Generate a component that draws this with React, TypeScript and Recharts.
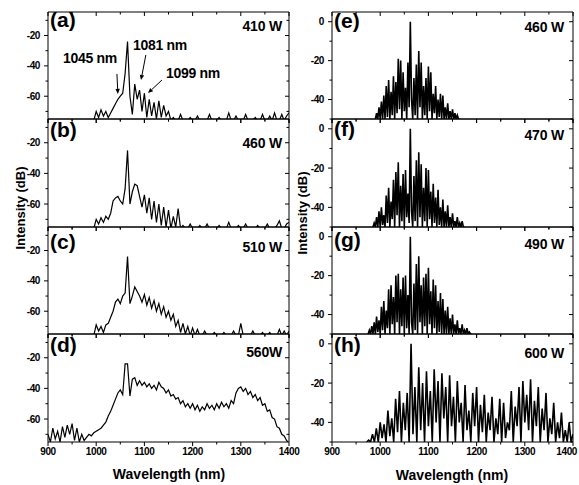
import React from "react";
import { LineChart, Line, XAxis, YAxis, ReferenceLine, ReferenceArea } from "recharts";

const FONT = '"Liberation Sans", Arial, Helvetica, sans-serif';

// wavelength axis (nm)
const X_TICKS = [900, 950, 1000, 1050, 1100, 1150, 1200, 1250, 1300, 1350, 1400];
const X_LABELS = [900, 1000, 1100, 1200, 1300, 1400];

// intensity axes (dB)
const LEFT_Y_TICKS = [-70, -60, -50, -40, -30, -20, -10];
const LEFT_Y_LABELS = [-60, -40, -20];
const RIGHT_Y_TICKS = [-50, -40, -30, -20, -10, 0];
const RIGHT_Y_LABELS = [-40, -20, 0];

// left column spectra, 900..1400 nm every 5 nm
const specA = [
  -76, -76, -76, -76, -76, -76, -76, -76, -76, -76,
  -76, -76, -76, -76, -76, -76, -76, -76, -76, -76,
  -70, -74, -69, -73, -70, -74, -71, -68, -65, -62,
  -60, -58, -45, -24, -60, -72, -52, -62, -56, -70,
  -58, -74, -62, -73, -64, -75, -63, -74, -66, -73,
  -70, -76, -74, -76, -76, -72, -76, -76, -76, -74,
  -76, -76, -73, -76, -76, -76, -76, -72, -76, -76,
  -76, -74, -76, -76, -76, -71, -76, -76, -73, -76,
  -76, -76, -72, -76, -76, -76, -74, -76, -76, -72,
  -76, -76, -73, -76, -71, -76, -76, -72, -76, -73,
  -71,
];
const specB = [
  -76, -76, -76, -76, -76, -76, -76, -76, -76, -76,
  -76, -76, -76, -76, -76, -76, -76, -76, -76, -76,
  -70, -73, -69, -72, -68, -70, -66, -58, -56, -55,
  -58, -60, -50, -25, -60, -52, -47, -48, -55, -62,
  -54, -66, -56, -70, -58, -72, -60, -74, -62, -75,
  -64, -76, -68, -75, -63, -76, -74, -76, -76, -73,
  -76, -76, -76, -74, -76, -76, -73, -76, -76, -76,
  -76, -74, -76, -76, -76, -72, -76, -76, -76, -74,
  -76, -76, -73, -76, -76, -76, -76, -74, -76, -76,
  -76, -73, -76, -76, -76, -74, -71, -76, -76, -73,
  -72,
];
const specC = [
  -76, -76, -76, -76, -76, -76, -76, -76, -76, -76,
  -76, -76, -76, -76, -76, -76, -76, -76, -76, -76,
  -69, -73, -70, -74, -69, -68, -64, -60, -54, -52,
  -55, -50, -48, -24, -55, -50, -44, -47, -50, -54,
  -49, -56, -51, -58, -53, -60, -55, -62, -57, -64,
  -60, -66, -62, -70, -66, -74, -68, -75, -70, -76,
  -71, -76, -72, -76, -76, -73, -76, -76, -76, -74,
  -76, -76, -76, -74, -76, -76, -76, -73, -76, -76,
  -68, -76, -76, -76, -76, -73, -76, -76, -76, -74,
  -76, -76, -74, -76, -76, -76, -72, -76, -73, -76,
  -73,
];
const specD = [
  -70, -75, -66, -73, -68, -75, -65, -72, -64, -70,
  -63, -74, -66, -75, -70, -74, -72, -70, -71, -69,
  -68, -67, -66, -64, -62, -58, -55, -51, -47, -43,
  -41, -44, -24, -24, -45, -34, -33, -38, -35, -38,
  -36, -39, -37, -40, -38, -41, -36, -39, -40, -43,
  -41, -45, -44, -47, -46, -50, -48, -52, -50, -53,
  -50, -54, -51, -55, -52, -54, -50, -53, -51, -54,
  -50, -53, -49, -52, -50, -53, -48, -50, -43, -40,
  -39, -42, -40, -44, -42, -46, -44, -48, -46, -51,
  -50, -55, -54, -59, -60, -65, -66, -70, -71, -74,
  -76,
];

// right column spectra
const specE = [
  -50, -47, -50, -44, -50, -41, -50, -38, -50, -33,
  -49, -30, -50, -36, -48, -28, -50, -31, -47, -19,
  -45, -20, -50, -26, -46, -34, -50, -21, -44, 0,
  -40, -50, -29, -48, -22, -50, -15, -44, -21, -50,
  -33, -48, -29, -50, -23, -46, -26, -50, -37, -47,
  -33, -50, -40, -49, -37, -50, -38, -50, -44, -50,
  -42, -50, -46, -50, -45, -50, -47, -50, -48, -50,
  -50,
];
const specF = [
  -50, -48, -50, -45, -50, -42, -50, -40, -49, -44,
  -50, -34, -48, -30, -50, -37, -46, -26, -50, -22,
  -44, -17, -50, -29, -47, -23, -50, -21, -45, -33,
  -48, 0, -42, -50, -24, -47, -16, -50, -12, -45,
  -18, -50, -30, -47, -20, -50, -21, -46, -32, -50,
  -28, -48, -35, -50, -31, -49, -40, -50, -36, -50,
  -42, -50, -39, -50, -45, -50, -43, -50, -47, -50,
  -45, -50, -48, -50, -47, -50, -50,
];
const specG = [
  -50, -48, -50, -46, -50, -44, -50, -41, -49, -43,
  -50, -36, -48, -33, -50, -38, -47, -27, -50, -25,
  -45, -31, -50, -20, -44, -19, -50, -27, -46, -21,
  -50, -20, -47, -30, -50, 0, -44, -50, -24, -48,
  -14, -50, -10, -44, -25, -50, -21, -46, -19, -50,
  -16, -45, -28, -50, -22, -47, -25, -50, -33, -49,
  -29, -50, -32, -50, -38, -50, -36, -50, -42, -50,
  -40, -50, -45, -50, -43, -50, -47, -50, -45, -50,
  -48, -50, -47, -50, -49, -50, -50,
];
const specH = [
  -50, -49, -50, -46, -50, -43, -50, -40, -48, -41,
  -50, -34, -47, -38, -50, -28, -45, -24, -50, -30,
  -44, -25, -50, 0, -46, -22, -50, -12, -44, -20,
  -50, -14, -42, -24, -50, -13, -40, -19, -50, -15,
  -38, -22, -50, -16, -42, -27, -50, -19, -40, -30,
  -50, -21, -44, -34, -50, -25, -42, -22, -50, -31,
  -45, -26, -50, -35, -44, -27, -50, -38, -46, -28,
  -50, -30, -48, -40, -44, -24, -50, -32, -42, -22,
  -50, -19, -40, -26, -44, -18, -50, -29, -42, -22,
  -50, -33, -44, -25, -50, -38, -46, -30, -50, -40,
  -48, -35, -50, -44, -50, -40, -50, -46,
];

// sampling of each spectrum: first wavelength and step (nm)
const SPECTRA = [specA, specB, specC, specD, specE, specF, specG, specH];
const SPEC_START = [900, 900, 900, 900, 990, 985, 975, 972];
const SPEC_STEP = [5, 5, 5, 5, 2.5, 2.5, 2.5, 4];

const TAGS = ["(a)", "(b)", "(c)", "(d)", "(e)", "(f)", "(g)", "(h)"];
const POWERS = ["410 W", "460 W", "510 W", "560W", "460 W", "470 W", "490 W", "600 W"];

// annotation arrows in panel (a): [wl, dB] start -> end
const ARROW_TEXT = ["1045 nm", "1081 nm", "1099 nm"];
const ARROW_FROM = [[1043, -45.3], [1103, -32.8], [1136.5, -49.3]];
const ARROW_TO = [[1045, -58.5], [1093, -49.3], [1107.5, -57.9]];

// layout
const PANEL_TOPS = [12, 119, 227, 334];
const PANEL_BOTTOM = 442;
const COL_LEFT = [0, 284];
const COL_RIGHT_MARGIN = [14, 5];
const AXIS_W = 48;
const PLOT_W = 241;
const PLOT_TOP = 4;
const TAG_Y = [27, 137, 249, 352, 28, 136, 247, 352];
const POWER_Y = [31, 148, 252, 357, 32, 140, 249, 358];
const ARROW_TEXT_POS = [[63, 63], [133, 50], [166, 78]];

const labelText = { fill: "#000", fontSize: 10, fontWeight: 700, fontFamily: FONT, letterSpacing: -0.4 };

// tick labels through the axes' tick renderer
function makeLabel(side: "b" | "l", majors: number[], show: boolean, h: number, squeezeLast: boolean) {
  const pb = PLOT_TOP + h;
  return (props: any) => {
    const { x, y, payload } = props;
    const v = payload.value;
    if (!show || !majors.includes(v)) return <g />;
    if (side === "b") {
      const last = squeezeLast && v === 1400;
      return (
        <text x={last ? x + 4 : x} y={pb + 6} dy="0.71em" textAnchor={last ? "end" : "middle"} {...labelText}>
          {v}
        </text>
      );
    }
    return (
      <text x={AXIS_W - 8} y={y} dy="0.355em" textAnchor="end" {...labelText}>
        {v}
      </text>
    );
  };
}

// tick marks: bottom/left outward, top/right inward
const vTick = (major: boolean) => (p: any) => {
  const len = major ? 4 : 2.5;
  const top = Math.min(p.y1, p.y2);
  const bot = Math.max(p.y1, p.y2);
  return (
    <g>
      <line x1={p.x1} x2={p.x1} y1={bot} y2={bot + len} stroke="#000" strokeWidth={1} />
      <line x1={p.x1} x2={p.x1} y1={top} y2={top + len} stroke="#000" strokeWidth={1} />
    </g>
  );
};
const hTick = (major: boolean) => (p: any) => {
  const len = major ? 4 : 2.5;
  const l = Math.min(p.x1, p.x2);
  const r = Math.max(p.x1, p.x2);
  return (
    <g>
      <line x1={l - len} x2={l} y1={p.y1} y2={p.y1} stroke="#000" strokeWidth={1} />
      <line x1={r - len} x2={r} y1={p.y1} y2={p.y1} stroke="#000" strokeWidth={1} />
    </g>
  );
};

const Arrow = (p: any) => {
  const { x1, y1, x2, y2 } = p;
  const a = Math.atan2(y2 - y1, x2 - x1);
  const L = 5;
  const W = 2.2;
  const bx = x2 - L * Math.cos(a);
  const by = y2 - L * Math.sin(a);
  const pts = `${x2},${y2} ${bx - W * Math.sin(a)},${by + W * Math.cos(a)} ${bx + W * Math.sin(a)},${by - W * Math.cos(a)}`;
  return (
    <g>
      <line x1={x1} y1={y1} x2={bx} y2={by} stroke="#000" strokeWidth={1} />
      <polygon points={pts} fill="#000" />
    </g>
  );
};

function Panel({ idx }: { idx: number }) {
  const col = idx < 4 ? 0 : 1;
  const row = idx % 4;
  const top = PANEL_TOPS[row];
  const h = (row < 3 ? PANEL_TOPS[row + 1] : PANEL_BOTTOM) - top;
  const showX = row === 3;
  const bottom = showX ? 25 : 3;
  const right = COL_RIGHT_MARGIN[col];
  const domain: [number, number] = col === 0 ? [-75, -4.5] : [-50, 5];
  const yTicks = col === 0 ? LEFT_Y_TICKS : RIGHT_Y_TICKS;
  const yLabels = col === 0 ? LEFT_Y_LABELS : RIGHT_Y_LABELS;
  const data = SPECTRA[idx].map((v, i) => ({ wl: SPEC_START[idx] + SPEC_STEP[idx] * i, v }));

  return (
    <div style={{ position: "absolute", left: COL_LEFT[col], top: top - PLOT_TOP }}>
      <LineChart
        width={AXIS_W + PLOT_W + right}
        height={h + PLOT_TOP + bottom + 1}
        data={data}
        margin={{ top: PLOT_TOP, right, bottom, left: 0 }}
      >
        <XAxis
          xAxisId="b"
          dataKey="wl"
          type="number"
          domain={[900, 1400]}
          ticks={X_TICKS}
          interval={0}
          allowDataOverflow
          height={1}
          tickSize={0}
          tickMargin={0}
          axisLine={false}
          tickLine={false}
          tick={makeLabel("b", X_LABELS, showX, h, col === 1)}
        />
        <YAxis
          yAxisId="l"
          type="number"
          domain={domain}
          ticks={yTicks}
          interval={0}
          allowDataOverflow
          width={AXIS_W}
          tickSize={0}
          tickMargin={0}
          axisLine={false}
          tickLine={false}
          tick={makeLabel("l", yLabels, true, h, false)}
        />
        <ReferenceArea
          xAxisId="b"
          yAxisId="l"
          x1={900}
          x2={1400}
          y1={domain[0]}
          y2={domain[1]}
          fill="none"
          stroke="#000"
          strokeWidth={1}
          ifOverflow="visible"
        />
        {X_TICKS.map((t) => (
          <ReferenceLine
            key={`x${t}`}
            xAxisId="b"
            yAxisId="l"
            x={t}
            ifOverflow="visible"
            shape={vTick(X_LABELS.includes(t))}
          />
        ))}
        {yTicks.map((t) => (
          <ReferenceLine
            key={`y${t}`}
            xAxisId="b"
            yAxisId="l"
            y={t}
            ifOverflow="visible"
            shape={hTick(yLabels.includes(t))}
          />
        ))}
        <Line
          xAxisId="b"
          yAxisId="l"
          dataKey="v"
          stroke="#000"
          strokeWidth={col === 0 ? 1.2 : 1.6}
          dot={false}
          isAnimationActive={false}
        />
        {idx === 0 &&
          ARROW_FROM.map((f, i) => (
            <ReferenceLine
              key={i}
              xAxisId="b"
              yAxisId="l"
              segment={[
                { x: f[0], y: f[1] },
                { x: ARROW_TO[i][0], y: ARROW_TO[i][1] },
              ]}
              shape={Arrow}
            />
          ))}
      </LineChart>
    </div>
  );
}

export default function App() {
  return (
    <div
      style={{
        position: "absolute",
        left: 0,
        top: 0,
        width: 579,
        height: 485,
        background: "#fff",
        fontFamily: FONT,
        fontWeight: 700,
      }}
    >
      {SPECTRA.map((_, i) => (
        <Panel key={i} idx={i} />
      ))}
      <svg
        width={579}
        height={485}
        style={{ position: "absolute", left: 0, top: 0, pointerEvents: "none" }}
        fontFamily={FONT}
        fontWeight={700}
      >
        {TAGS.map((t, i) => (
          <text key={t} x={i < 4 ? 50 : 334} y={TAG_Y[i]} fontSize={21}>
            {t}
          </text>
        ))}
        {POWERS.map((t, i) => (
          <text key={i} x={i < 4 ? 282 : 564} y={POWER_Y[i]} fontSize={14} textAnchor="end" letterSpacing={-0.2}>
            {t}
          </text>
        ))}
        {ARROW_TEXT.map((t, i) => (
          <text key={t} x={ARROW_TEXT_POS[i][0]} y={ARROW_TEXT_POS[i][1]} fontSize={14} letterSpacing={-0.3}>
            {t}
          </text>
        ))}
        <text x={20} y={208} fontSize={13} textAnchor="middle" dominantBaseline="central" transform="rotate(-90 20 208)">
          Intensity (dB)
        </text>
        <text x={302} y={213} fontSize={13} textAnchor="middle" dominantBaseline="central" transform="rotate(-90 302 213)">
          Intensity (dB)
        </text>
        <text x={169} y={479} fontSize={14} textAnchor="middle">
          Wavelength (nm)
        </text>
        <text x={452} y={480} fontSize={14} textAnchor="middle">
          Wavelength (nm)
        </text>
      </svg>
    </div>
  );
}
